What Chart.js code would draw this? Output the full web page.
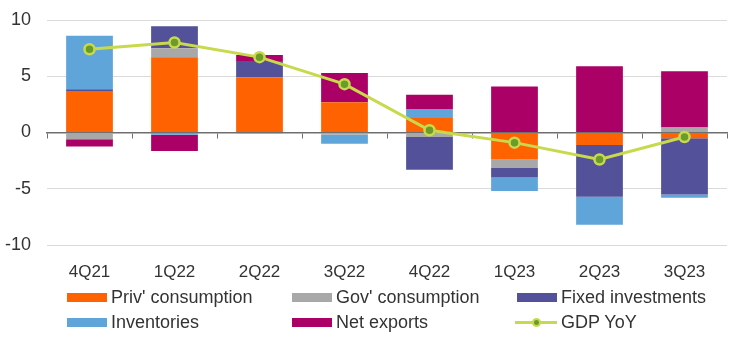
<!DOCTYPE html>
<html>
<head>
<meta charset="utf-8">
<script src="https://cdn.jsdelivr.net/npm/chart.js@4/dist/chart.umd.min.js"></script>
<style>
    html, body { margin: 0; padding: 0; background: #fff; }
    #wrap { position: relative; width: 744px; height: 343px; }
    #legend { position: absolute; left: 0; top: 0; font-family: "Liberation Sans", Arial, sans-serif; font-size: 18px; color: #333; }
    .item { position: absolute; display: flex; align-items: center; white-space: nowrap; height: 22px; }
    .swatch { width: 40px; height: 9px; margin-right: 4px; }
    .line-swatch { width: 42px; height: 3px; margin-right: 4px; position: relative; }
    .line-swatch span { position: absolute; width: 5px; height: 5px; border-radius: 50%; border: 2px solid; box-sizing: content-box; left: 17px; top: -3px; }
</style>
</head>
<body>
<div id="wrap">
    <canvas id="gdpChart" width="744" height="343"></canvas>
    <div id="legend"></div>
</div>
<script>
    const quarters = ["4Q21", "1Q22", "2Q22", "3Q22", "4Q22", "1Q23", "2Q23", "3Q23"];
    const privConsumption = [3.7, 6.7, 4.9, 2.7, 1.3, -2.35, -1.1, -0.5];
    const govConsumption = [-0.6, 0.8, -0.1, -0.2, -0.4, -0.75, 0, 0.45];
    const fixedInvestments = [0.15, 1.95, 1.45, 0, -2.9, -0.9, -4.6, -5.0];
    const inventories = [4.75, -0.2, 0, -0.8, 0.8, -1.2, -2.5, -0.3];
    const netExports = [-0.65, -1.45, 0.55, 2.6, 1.25, 4.1, 5.9, 5.0];
    const gdpYoY = [7.4, 8.0, 6.7, 4.3, 0.2, -0.9, -2.4, -0.4];
    const yTicks = [-10, -5, 0, 5, 10];

    const lineColor = "#c9d94c";
    const dotColor = "#6a9c2c";
    const fontFamily = "Liberation Sans, Arial, sans-serif";

    function barSet(label, data, color) {
        return {
            type: "bar",
            label: label,
            data: data,
            backgroundColor: color,
            stack: "parts",
            order: 1,
            barPercentage: 0.55,
            categoryPercentage: 1.0
        };
    }

    const datasets = [
        barSet("Priv' consumption", privConsumption, "#ff6200"),
        barSet("Gov' consumption", govConsumption, "#a8a8a8"),
        barSet("Fixed investments", fixedInvestments, "#525199"),
        barSet("Inventories", inventories, "#60a5da"),
        barSet("Net exports", netExports, "#ab0066"),
        {
            type: "line",
            label: "GDP YoY",
            data: gdpYoY,
            stack: "gdp",
            order: 0,
            borderColor: lineColor,
            borderWidth: 3,
            pointRadius: 5,
            pointBorderWidth: 2.5,
            pointBackgroundColor: dotColor,
            pointBorderColor: lineColor,
            tension: 0
        }
    ];

    const ctx = document.getElementById("gdpChart").getContext("2d");
    const chart = new Chart(ctx, {
        data: { labels: quarters, datasets: datasets },
        options: {
            responsive: false,
            animation: false,
            layout: { padding: { top: 20, right: 17, bottom: 58, left: 0 } },
            scales: {
                x: {
                    stacked: true,
                    grid: { display: false },
                    border: { display: false },
                    ticks: { color: "#333", font: { family: fontFamily, size: 17 }, padding: 9 },
                    afterFit: (scale) => { scale.height = 40; }
                },
                // zero line with tick marks between quarters
                xZero: {
                    type: "category",
                    labels: quarters,
                    position: { y: 0 },
                    offset: true,
                    grid: {
                        offset: true,
                        drawOnChartArea: false,
                        drawTicks: true,
                        tickLength: 5,
                        color: "#6f6f6f",
                        lineWidth: 1
                    },
                    border: { display: true, color: "#6f6f6f", width: 1.5 },
                    ticks: { display: false }
                },
                y: {
                    stacked: true,
                    min: -10,
                    max: 10,
                    afterBuildTicks: (scale) => { scale.ticks = yTicks.map(v => ({ value: v })); },
                    grid: { color: "#dadada", drawTicks: false },
                    border: { display: false },
                    ticks: { color: "#333", font: { family: fontFamily, size: 18 }, padding: 16 },
                    afterFit: (scale) => {
                        scale.width = 47;
                        scale.paddingTop = 0;
                        scale.paddingBottom = 0;
                    }
                }
            },
            plugins: {
                legend: { display: false },
                tooltip: { enabled: false }
            }
        }
    });

    // Legend laid out as a 3-column grid below the plot
    const legendEl = document.getElementById("legend");
    chart.data.datasets.forEach((ds, i) => {
        const item = document.createElement("div");
        item.className = "item";
        item.style.left = (67 + (i % 3) * 225 - (ds.type === "line" ? 2 : 0)) + "px";
        item.style.top = (286 + Math.floor(i / 3) * 25) + "px";
        let sw;
        if (ds.type === "line") {
            sw = document.createElement("div");
            sw.className = "line-swatch";
            sw.style.background = ds.borderColor;
            const dot = document.createElement("span");
            dot.style.background = ds.pointBackgroundColor;
            dot.style.borderColor = ds.pointBorderColor;
            sw.appendChild(dot);
        } else {
            sw = document.createElement("div");
            sw.className = "swatch";
            sw.style.background = ds.backgroundColor;
        }
        item.appendChild(sw);
        const txt = document.createElement("span");
        txt.textContent = ds.label;
        item.appendChild(txt);
        legendEl.appendChild(item);
    });
</script>
</body>
</html>
